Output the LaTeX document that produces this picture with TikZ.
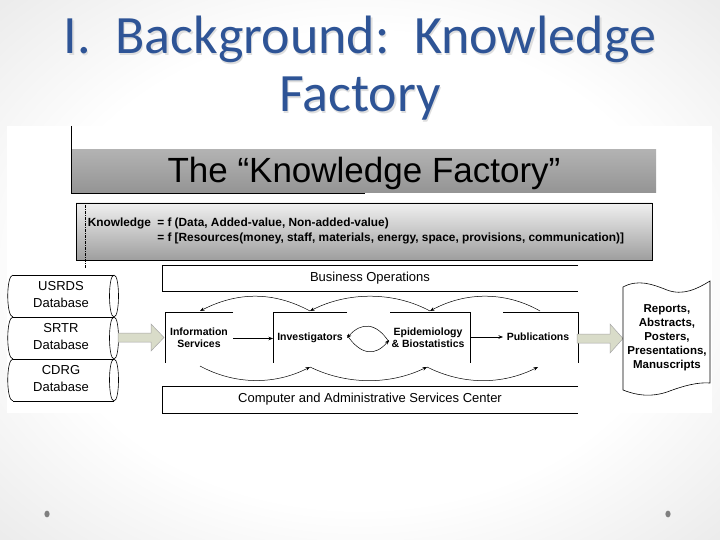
\documentclass[tikz,border=0pt]{standalone}
\usepackage{fontspec}
\setmainfont{Liberation Sans}
\newfontfamily\titlefont{Carlito}
\usetikzlibrary{arrows.meta}
\definecolor{titleblue}{RGB}{46,84,150}
\definecolor{fatfill}{RGB}{217,220,201}
\pgfdeclareradialshading{slidebg}{\pgfpoint{0bp}{0bp}}{color(0bp)=(white); color(22bp)=(white); color(50bp)=(black!16); color(72bp)=(black!22)}
\begin{document}
\begin{tikzpicture}[x=1pt,y=-1pt, line width=0.6pt,
  lbl/.style={font=\fontsize{10.5}{12.5}\selectfont\bfseries, inner sep=0pt, align=center},
  big/.style={font=\fontsize{13}{17}\selectfont, inner sep=0pt, align=center},
  frm/.style={font=\fontsize{11.85}{13}\selectfont\bfseries, inner sep=0pt, anchor=base west},
  arr/.style={-{Stealth[length=4.5pt,width=3.5pt]}, line width=0.5pt},
  fat/.style={fill=fatfill, draw=gray!70, line width=0.5pt},
  ttl/.style={font=\titlefont\fontsize{54}{58}\selectfont, anchor=base, inner sep=0pt},
]
\useasboundingbox (0,0) rectangle (720,540);
\shade[shading=slidebg] (0,0) rectangle (720,540);
% title with faint shadow
\node[ttl, text=black!13] at (361.2,55.2) {I.\ \ Background:\ \ Knowledge};
\node[ttl, text=black!13] at (361.2,113.2) {Factory};
\node[ttl, text=titleblue] (t1) at (360,54) {I.\ \ Background:\ \ Knowledge};
\node[ttl, text=titleblue] (t2) at (360,112) {Factory};
% dots
\fill[gray] (47,514) ellipse [x radius=2.6, y radius=3.4];
\fill[gray] (668,514) ellipse [x radius=2.6, y radius=3.4];
% picture area
\fill[white] (7,126) rectangle (712,413);
% title bar
\shade[top color=black!30, middle color=black!12, bottom color=black!42] (71,150) rectangle (656,193);
\draw (71,126) -- (71,193) -- (365,193);
\node[font=\fontsize{35}{40}\selectfont, anchor=base, inner sep=0pt] (kf) at (364,183) {The “Knowledge Factory”};
% formula box
\shade[top color=black!6, bottom color=black!38, draw=black, line width=0.7pt] (76,203) rectangle (652,260);
\draw[line width=0.5pt, dash pattern=on 3pt off 1pt on 1pt off 1pt] (85,205) -- (85,268);
\node[frm] (kn) at (87.5,226) {Knowledge};
\node[frm] (f1) at (157,226) {= f (Data, Added-value, Non-added-value)};
\node[frm] (f2) at (157,241) {= f [Resources(money, staff, materials, energy, space, provisions, communication)]};
% business operations box
\draw (578,265) -- (162,265) -- (162,291) -- (578,291);
\node[big] (bo) at (370,278) {Business Operations};
% computer box
\draw (578,386) -- (162,386) -- (162,413) -- (578,413);
\node[big] (cas) at (370,399.5) {Computer and Administrative Services Center};
% middle boxes
\draw (233,312) -- (165,312) -- (165,363);
\draw (347,312) -- (273,312) -- (273,363);
\draw (390,312) -- (470,312) -- (470,363);
\draw (503,312) -- (578,312) -- (578,363);
\node[lbl] (info) at (199,337.5) {Information\\Services};
\node[lbl] (inv) at (310,338) {Investigators};
\node[lbl] (epi) at (428,337.5) {Epidemiology\\\& Biostatistics};
\node[lbl] (pub) at (538,337) {Publications};
\coordinate (infoR) at (233,338.5);
\coordinate (invL) at (273,338.5);
\coordinate (invR) at (347,338);
\coordinate (epiL) at (389,340);
\coordinate (epiR) at (470,337);
\coordinate (pubL) at (503,337);
\draw[arr] (infoR) -- (invL);
\draw[arr] (epiR) -- (pubL);
\draw[arr] ([yshift=-2pt]epiL) .. controls (376,322) and (361,322) .. (invR);
\draw[arr] ([yshift=3pt]invR) .. controls (361,356) and (376,356) .. (epiL);
% top wave (right to left)
\coordinate (t0) at (540,311);
\coordinate (ta) at (430,311);
\coordinate (tb) at (310,311);
\coordinate (tc) at (200,311);
\draw[arr] (t0) .. controls (505,291) and (465,292) .. (ta);
\draw[arr] (ta) .. controls (393,291) and (347,292) .. (tb);
\draw[arr] (tb) .. controls (273,291) and (237,292) .. (tc);
% bottom wave (left to right)
\coordinate (b0) at (200,366);
\coordinate (ba) at (310,367);
\coordinate (bb) at (427,367);
\coordinate (bc) at (538,367);
\draw[arr] (b0) .. controls (235,385) and (275,385) .. (ba);
\draw[arr] (ba) .. controls (347,385) and (390,385) .. (bb);
\draw[arr] (bb) .. controls (463,385) and (502,385) .. (bc);
% databases
\foreach \ya/\yb in {275/317, 317/359, 359/401}{
  \draw (13,\ya) -- (114,\ya);
  \draw (13,\yb) -- (114,\yb);
  \draw (13,\ya) .. controls (6,\ya) and (6,\yb) .. (13,\yb);
  \draw (114,\ya) .. controls (120,\ya) and (120,\yb) .. (114,\yb) .. controls (108,\yb) and (108,\ya) .. (114,\ya);
}
\node[big] (usrds) at (61,295) {USRDS\\Database};
\node[big] (srtr) at (61,337) {SRTR\\Database};
\node[big] (cdrg) at (61,379) {CDRG\\Database};
% fat arrows
\draw[fat] (118,333) -- (151,333) -- (151,324) -- (164,337.5) -- (151,351) -- (151,342) -- (118,342) -- cycle;
\draw[fat] (577,334) -- (610,334) -- (610,324) -- (623,338.5) -- (610,353) -- (610,343) -- (577,343) -- cycle;
% output document
\draw[fill=white, line width=0.6pt] (623,287) .. controls (638,279) and (652,284) .. (667,290)
  .. controls (683,296) and (697,289) .. (710,281) -- (710,383)
  .. controls (697,382) and (683,386) .. (667,392)
  .. controls (652,397) and (638,396) .. (623,390) -- cycle;
\node[font=\fontsize{11.5}{14}\selectfont\bfseries, inner sep=0pt, align=center] (out) at (667,338) {Reports,\\Abstracts,\\Posters,\\Presentations,\\Manuscripts};
\end{tikzpicture}
\end{document}
